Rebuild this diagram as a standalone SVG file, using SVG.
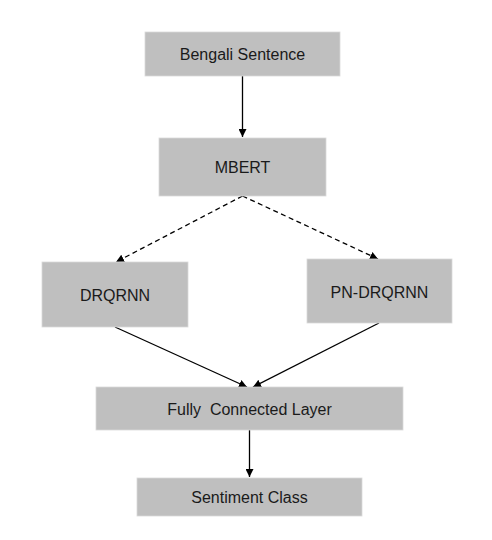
<svg xmlns="http://www.w3.org/2000/svg" width="492" height="540" viewBox="0 0 492 540">
<style>
.box{fill:#bfbfbf;stroke:#d9d9d9;stroke-width:0.8}
.t{font-family:"Liberation Sans",Arial,sans-serif;font-size:16px;fill:#1a1a1a;text-anchor:middle;dominant-baseline:central}
.c{stroke:#000;stroke-width:1.3;fill:none;marker-end:url(#ah)}
.d{stroke-dasharray:5,3.5}
</style>
<defs>
<marker id="ah" viewBox="0 0 10 10" refX="10" refY="5" markerWidth="8" markerHeight="8" markerUnits="userSpaceOnUse" orient="auto">
<path d="M0,0 L10,5 L0,10 z" fill="#000"/>
</marker>
</defs>
<rect width="492" height="540" fill="#fff"/>
<g id="connectors">
<line class="c" x1="242.5" y1="76" x2="242.5" y2="137"/>
<line class="c d" x1="242.5" y1="196" x2="116" y2="262"/>
<line class="c d" x1="242.5" y1="196" x2="378" y2="259"/>
<line class="c" x1="115" y1="327" x2="247" y2="387"/>
<line class="c" x1="379" y1="323" x2="253" y2="387"/>
<line class="c" x1="249.5" y1="430" x2="249.5" y2="477"/>
</g>
<g id="bengali"><rect class="box" x="145" y="32" width="195" height="44"/><text class="t" x="242.5" y="54">Bengali Sentence</text></g>
<g id="mbert"><rect class="box" x="159" y="138" width="167" height="58"/><text class="t" x="242.5" y="167">MBERT</text></g>
<g id="drqrnn"><rect class="box" x="42" y="262" width="146" height="65"/><text class="t" x="115" y="295">DRQRNN</text></g>
<g id="pndrqrnn"><rect class="box" x="307" y="259" width="145" height="64"/><text class="t" x="379.5" y="292">PN-DRQRNN</text></g>
<g id="fc"><rect class="box" x="96" y="387" width="307" height="43"/><text class="t" x="249.5" y="409" xml:space="preserve">Fully  Connected Layer</text></g>
<g id="sentiment"><rect class="box" x="137" y="478" width="225" height="38"/><text class="t" x="249.5" y="497">Sentiment Class</text></g>
</svg>
